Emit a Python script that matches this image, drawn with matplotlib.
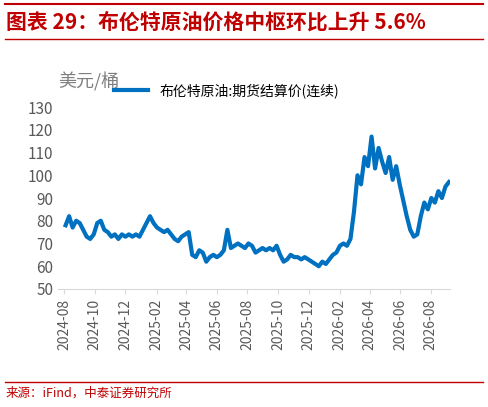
import pandas as pd
import matplotlib.pyplot as plt
import matplotlib.dates as mdates

plt.rcParams['font.family'] = ['Noto Sans CJK SC', 'DejaVu Sans']

# weekly Brent settlement
prices = [78, 82, 77, 80, 79,
          76, 73, 72, 74,
          79, 80, 76, 75, 73,
          74, 72, 74, 73,
          74, 73, 74, 73,
          76, 79, 82, 79, 77,
          76, 75, 76, 74,
          72, 71, 73, 74,
          75, 65, 64, 67, 66,
          62, 64, 65, 64,
          65, 67, 76, 68,
          69, 70, 69, 68, 70,
          69, 66, 67, 68,
          67, 68, 67, 69,
          65, 62, 63, 65, 64,
          64, 63, 64, 63,
          62, 61, 60, 62,
          61, 63, 65, 66, 69,
          70, 69, 72, 84,
          100, 96, 108, 104,
          117, 103, 112, 106, 101,
          108, 98, 104, 96,
          89, 82, 76, 73,
          74, 82, 88, 85, 90,
          88, 93, 90, 95,
          97]
dates = pd.date_range(start='2024-08-01', periods=len(prices), freq='W')
ticks = pd.date_range(start='2024-08-01', end='2026-08-01', freq='2MS')

red = '#C00000'
fig = plt.figure(figsize=(4.88, 4.07), dpi=100)
ax = fig.add_axes([0.119, 0.29, 0.803, 0.447])
ax.plot(dates, prices, color='#0070C0', lw=3, label='布伦特原油:期货结算价(连续)')
ax.set_ylim(50, 130)
ax.set_yticks(range(50, 131, 10))
ax.set_xlim(pd.Timestamp('2024-07-20'), pd.Timestamp('2026-09-08'))
ax.set_xticks(ticks)
ax.xaxis.set_major_formatter(mdates.DateFormatter('%Y-%m'))
plt.setp(ax.get_xticklabels(), rotation=90)
for s in ['top', 'right', 'left']:
    ax.spines[s].set_visible(False)
ax.spines['bottom'].set_color('#D9D9D9')
ax.tick_params(axis='y', length=0, labelsize=11, colors='#595959')
ax.tick_params(axis='x', color='#D9D9D9', labelsize=10, labelcolor='#595959')
ax.legend(loc='upper left', bbox_to_anchor=(0.11, 1.2), frameon=False, fontsize=10, handlelength=2.5)

fig.text(0.12, 0.785, '美元/桶', fontsize=13, color='#7F7F7F', ha='left')
fig.text(0.012, 0.945, '图表 29：布伦特原油价格中枢环比上升 5.6%', fontsize=15,
         color=red, fontweight='bold', style='italic', va='center')
fig.add_artist(plt.Line2D([0.01, 0.99], [0.99, 0.99], color=red, lw=1.5))
fig.add_artist(plt.Line2D([0.01, 0.99], [0.905, 0.905], color=red, lw=1))
fig.add_artist(plt.Line2D([0.01, 0.99], [0.062, 0.062], color=red, lw=1))
fig.text(0.012, 0.035, '来源：iFind，中泰证券研究所', fontsize=9, color=red, va='center')

plt.savefig('out.png')
